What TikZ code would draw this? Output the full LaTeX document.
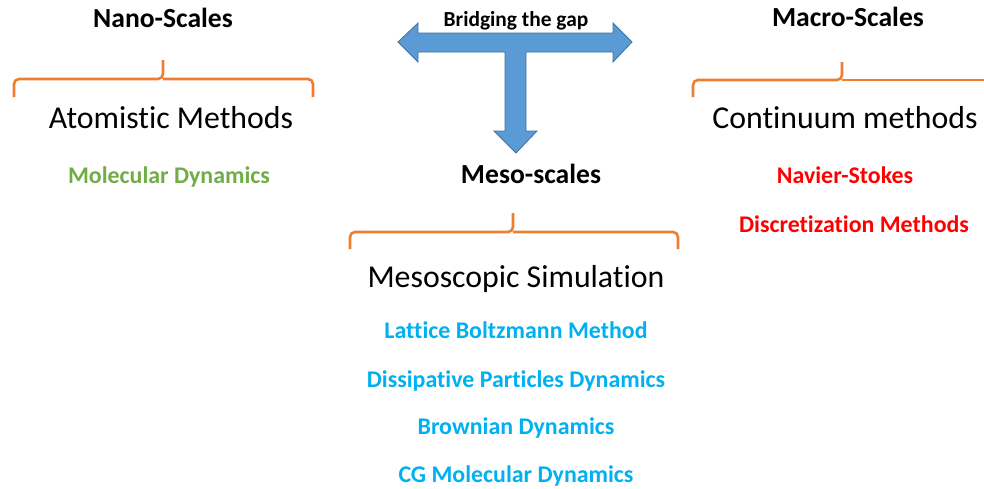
\documentclass[tikz,border=0pt]{standalone}
\usepackage{fontspec}
\setmainfont[Ligatures=NoCommon]{Carlito}
\definecolor{bracecol}{HTML}{ED7D31}
\definecolor{arrowfill}{HTML}{5B9BD5}
\definecolor{arrowline}{HTML}{41719C}
\definecolor{greentxt}{HTML}{70AD47}
\definecolor{bluetxt}{HTML}{00B0F0}
\definecolor{redtxt}{HTML}{FF0000}
\begin{document}
\begin{tikzpicture}[x=1pt,y=-1pt,
  head/.style={anchor=base,font=\bfseries\fontsize{27.6}{30}\selectfont},
  big/.style={anchor=base,font=\fontsize{31.8}{34}\selectfont},
  item/.style={anchor=base,font=\bfseries\fontsize{23.9}{26}\selectfont},
  bracestyle/.style={draw=bracecol,line width=2.6pt,rounded corners=5pt},
  blockarrow/.style={fill=arrowfill,draw=arrowline,line width=0.8pt,line join=miter}]
\useasboundingbox (0,0) rectangle (984,488);
\begin{scope}
\clip (0,0) rectangle (984,488);
% braces
\draw[bracestyle] (14,97) -- (14,79) -- (163,79) -- (163,60);
\draw[bracestyle] (313,97) -- (313,79) -- (163,79);
\draw[bracestyle] (350,249) -- (350,232) -- (513,232) -- (513,213);
\draw[bracestyle] (678,249) -- (678,232) -- (513,232);
\draw[bracestyle] (693,97) -- (693,80) -- (842,80) -- (842,62);
\draw[bracestyle] (1000,80) -- (842,80);
\end{scope}
% arrow
\draw[blockarrow] (398,42) -- (418,23) -- (418,33) -- (613,33) -- (613,23) -- (632,42)
  -- (613,62) -- (613,52) -- (526,52) -- (526,131) -- (537,131) -- (516,153)
  -- (494,131) -- (505,131) -- (505,52) -- (418,52) -- (418,62) -- cycle;
% texts
\node[anchor=base,font=\bfseries\fontsize{21.4}{24}\selectfont] (bridge) at (516,26) {Bridging the gap};
\node[head] (nano) at (163,27) {Nano-Scales};
\node[big] (atom) at (171,128) {Atomistic Methods};
\node[item,text=greentxt] (md) at (169,183) {Molecular Dynamics};
\node[head] (meso) at (531,183) {Meso-scales};
\node[big] (mesosim) at (516,287) {Mesoscopic Simulation};
\node[item,text=bluetxt] (lbm) at (516,338) {Lattice Boltzmann Method};
\node[item,text=bluetxt] (dpd) at (516,387) {Dissipative Particles Dynamics};
\node[item,text=bluetxt] (bd) at (516,434) {Brownian Dynamics};
\node[item,text=bluetxt] (cgmd) at (516,482) {CG Molecular Dynamics};
\node[head] (macro) at (848,26) {Macro-Scales};
\node[big] (cont) at (845,128) {Continuum methods};
\node[item,text=redtxt] (ns) at (845,183) {Navier-Stokes};
\node[item,text=redtxt] (disc) at (854,232) {Discretization Methods};
\end{tikzpicture}
\end{document}
